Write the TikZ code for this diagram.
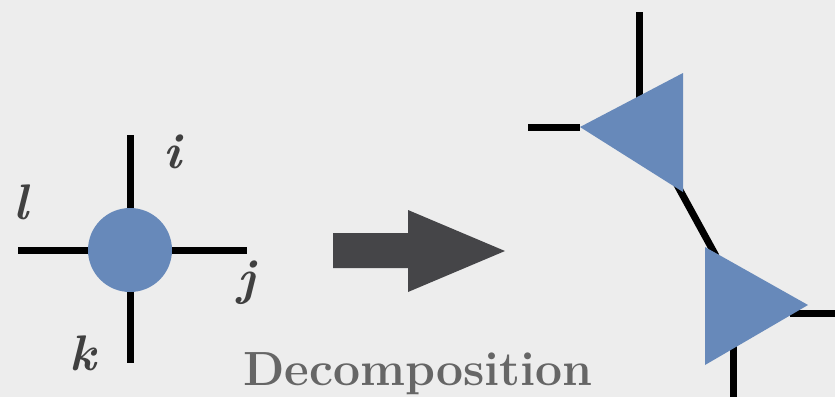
\documentclass[tikz,border=0pt]{standalone}
\usetikzlibrary{positioning}

\definecolor{paper}{RGB}{237,237,237}
\definecolor{tensorblue}{RGB}{103,137,186}
\definecolor{arrowgray}{RGB}{69,69,72}
\definecolor{textgray}{RGB}{102,102,102}
\definecolor{labelgray}{RGB}{64,64,64}

\begin{document}
\begin{tikzpicture}[x=1pt, y=-1pt,
leg/.style={line width=7pt, black},
tensor node/.style={circle, fill=tensorblue, inner sep=0pt, minimum size=84pt},
index label/.style={text=labelgray, font=\fontsize{50}{54}\selectfont\bfseries\itshape, inner sep=0pt},
title label/.style={text=textgray, font=\fontsize{48}{52}\selectfont\bfseries, inner sep=0pt, anchor=base}]

% background
\fill[paper] (0,0) rectangle (835,397);
\useasboundingbox (0,0) rectangle (835,397);

% single tensor
\coordinate (Ti) at (130,135);
\coordinate (Tk) at (130,363);
\coordinate (Tl) at (18,250);
\coordinate (Tj) at (247,250);
\draw[leg] (Ti) -- (Tk);
\draw[leg] (Tl) -- (Tj);
\node[tensor node] (T) at (130,250) {};

\node[index label] (i) at (172,152) {i};
\node[index label] (l) at (21,202) {l};
\node[index label] (j) at (246,283) {j};
\node[index label] (k) at (83,353) {k};

% block arrow
\fill[arrowgray] (333,233) -- (408,233) -- (408,210) -- (505,251)
  -- (408,292) -- (408,268) -- (333,268) -- cycle;

\node[title label] (title) at (418,385) {Decomposition};

% decomposed tensors
\coordinate (Aleft) at (580,127);
\coordinate (Atop) at (683,73);
\coordinate (Abot) at (683,192);
\coordinate (Btop) at (705,247);
\coordinate (Bbot) at (705,365);
\coordinate (Bright) at (808,305);

\coordinate (Aup) at (639,12);
\coordinate (Aupin) at (639,105);
\coordinate (Aout) at (528,127);
\coordinate (Bdown) at (733,397);
\coordinate (Bdownin) at (733,340);
\coordinate (Bout) at (835,313);
\coordinate (Boutin) at (790,313);

\draw[leg] (Aup) -- (Aupin);
\draw[leg] (Aout) -- (Aleft);
\draw[leg] (670,172) -- (716,256);
\draw[leg] (Bdownin) -- (Bdown);
\draw[leg] (Boutin) -- (Bout);

\fill[tensorblue] (Aleft) -- (Atop) -- (Abot) -- cycle;
\fill[tensorblue] (Btop) -- (Bright) -- (Bbot) -- cycle;
\end{tikzpicture}
\end{document}
